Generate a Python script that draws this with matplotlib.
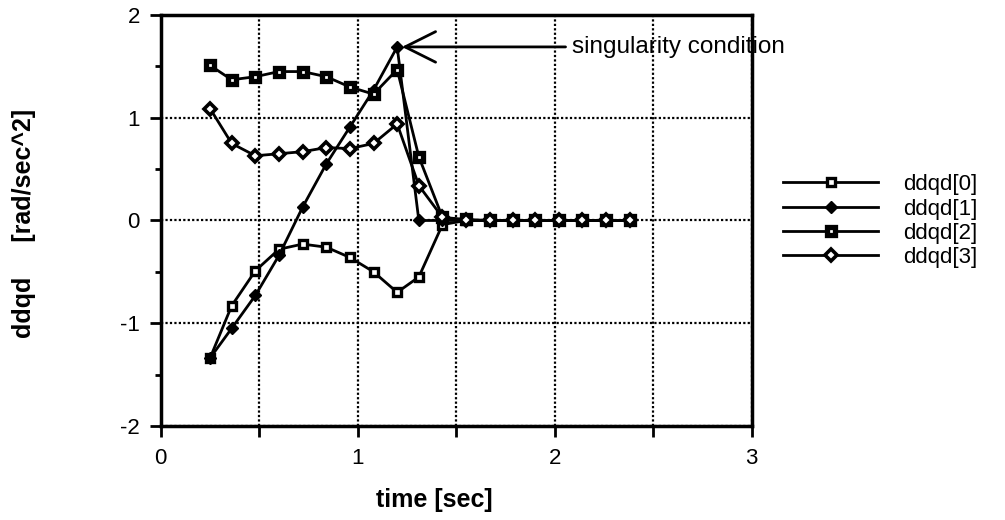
import matplotlib
matplotlib.use('Agg')
import matplotlib.pyplot as plt
import numpy as np

plt.rcParams['font.family'] = ['Liberation Sans', 'DejaVu Sans']

# time points [sec]
t = [0.25, 0.36, 0.48, 0.60, 0.72, 0.84, 0.96, 1.08, 1.20, 1.31, 1.43,
     1.55, 1.67, 1.79, 1.90, 2.02, 2.14, 2.26, 2.38]

ddqd0 = [-1.34, -0.83, -0.49, -0.28, -0.23, -0.26, -0.36, -0.50, -0.70, -0.55, -0.04,
         0.0, 0.0, 0.0, 0.0, 0.0, 0.0, 0.0, 0.0]
ddqd1 = [-1.34, -1.05, -0.73, -0.34, 0.13, 0.55, 0.91, 1.27, 1.69, 0.0, 0.0,
         0.0, 0.0, 0.0, 0.0, 0.0, 0.0, 0.0, 0.0]
ddqd2 = [1.51, 1.37, 1.40, 1.45, 1.45, 1.40, 1.30, 1.23, 1.47, 0.62, 0.03,
         0.01, 0.0, 0.0, 0.0, 0.0, 0.0, 0.0, 0.0]
ddqd3 = [1.09, 0.75, 0.63, 0.65, 0.67, 0.71, 0.70, 0.75, 0.94, 0.34, 0.03,
         0.0, 0.0, 0.0, 0.0, 0.0, 0.0, 0.0, 0.0]

labels = ['ddqd[0]', 'ddqd[1]', 'ddqd[2]', 'ddqd[3]']

fig = plt.figure(figsize=(10.05, 5.2), dpi=100)
ax = fig.add_axes([0.160, 0.181, 0.588, 0.790])

ax.plot(t, ddqd0, '-', color='k', lw=2, marker='s', ms=5.5, mfc='white', mec='k', mew=2.4,
        label=labels[0], zorder=3)
ax.plot(t, ddqd1, '-', color='k', lw=2, marker='D', ms=6, mfc='k', mec='k',
        label=labels[1], zorder=3)
ax.plot(t, ddqd2, '-', color='k', lw=2, marker='s', ms=5.5, mfc='white', mec='k', mew=3.8,
        label=labels[2], zorder=3)
ax.plot(t, ddqd3, '-', color='k', lw=2, marker='D', ms=6.2, mfc='white', mec='k', mew=2.6,
        label=labels[3], zorder=3)

ax.set_xlim(0, 3)
ax.set_ylim(-2, 2)
ax.set_xticks(np.arange(0, 3.01, 0.5))
ax.set_xticklabels(['0', '', '1', '', '2', '', '3'])
ax.set_yticks([-2, -1, 0, 1, 2])
ax.set_yticklabels(['-2', '-1', '0', '1', '2'])
ax.set_yticks([-1.5, -0.5, 0.5, 1.5], minor=True)
ax.tick_params(which='both', direction='out', width=2, labelsize=16)
ax.tick_params(which='major', length=8)
ax.tick_params(which='minor', length=4)
ax.tick_params(axis='x', pad=8)
ax.tick_params(axis='y', pad=7)
ax.grid(True, which='major', color='k', linestyle=(0, (1, 1)), lw=1.6)
for s in ax.spines.values():
    s.set_linewidth(2.5)

fig.text(0.432, 0.038, 'time [sec]', fontsize=18, fontweight='bold',
         ha='center', va='center')
fig.text(0.024, 0.57, 'ddqd     [rad/sec^2]', rotation=90, fontsize=18,
         fontweight='bold', ha='center', va='center')

ax.annotate('singularity condition', xy=(1.21, 1.69), xytext=(2.09, 1.69),
            fontsize=17.5, ha='left', va='center',
            arrowprops=dict(arrowstyle='->,head_length=1.0,head_width=0.5',
                            mutation_scale=22, lw=2, color='k', shrinkA=3, shrinkB=2))

ax.legend(loc='upper left', bbox_to_anchor=(0.779, 0.665), bbox_transform=fig.transFigure,
          frameon=False, fontsize=16, handlelength=4.3, handletextpad=1.1,
          labelspacing=0.15, borderpad=0, borderaxespad=0)

fig.savefig('out.png', dpi=100)
